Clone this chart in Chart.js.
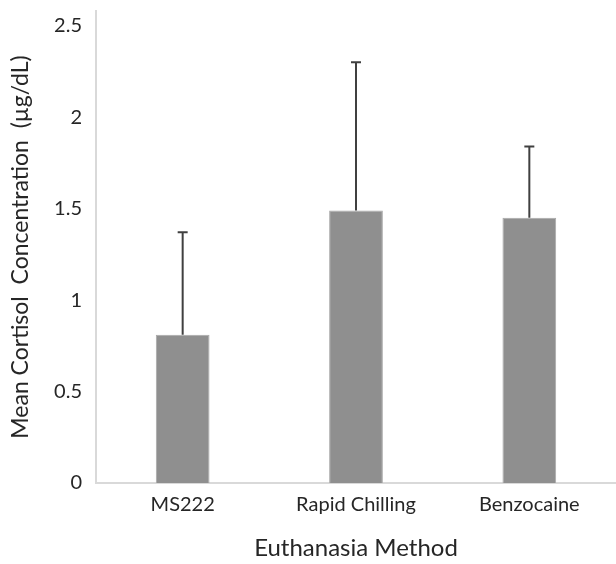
<!DOCTYPE html>
<html>
<head>
<meta charset="utf-8">
<script src="https://cdn.jsdelivr.net/npm/chart.js@4"></script>
<style>
  body { margin: 0; background: #fff; }
</style>
</head>
<body>
<canvas id="cortisolChart" width="616" height="564"></canvas>
<script>
// data
var methods = ["MS222", "Rapid Chilling", "Benzocaine"];
var meanCortisol = [0.81, 1.49, 1.45];
var errorUp = [0.56, 0.81, 0.39];
var yTicks = [0, 0.5, 1, 1.5, 2, 2.5];

var textColor = '#262626';
var fontFamily = 'Lato, sans-serif';

// upper-only error bars with a small cap
var errorBars = {
    id: 'errorBars',
    afterDatasetsDraw: function(chart) {
        var ctx = chart.ctx;
        var meta = chart.getDatasetMeta(0);
        var yScale = chart.scales.y;
        ctx.save();
        ctx.strokeStyle = '#404040';
        ctx.lineWidth = 2;
        meta.data.forEach(function(bar, i) {
            var x = bar.x;
            var yTop = yScale.getPixelForValue(meanCortisol[i] + errorUp[i]);
            var yBase = yScale.getPixelForValue(meanCortisol[i]);
            ctx.beginPath();
            ctx.moveTo(x, yBase);
            ctx.lineTo(x, yTop);
            ctx.moveTo(x - 5, yTop);
            ctx.lineTo(x + 5, yTop);
            ctx.stroke();
        });
        ctx.restore();
    }
};

var ctx = document.getElementById('cortisolChart').getContext('2d');
var chart = new Chart(ctx, {
    type: 'bar',
    data: {
        labels: methods,
        datasets: [{
            label: 'Mean Cortisol',
            data: meanCortisol,
            backgroundColor: '#8f8f8f',
            borderColor: '#a8a8a8',
            borderWidth: 1,
            barPercentage: 0.31,
            categoryPercentage: 1
        }]
    },
    options: {
        responsive: false,
        animation: false,
        layout: { padding: 0 },
        plugins: {
            legend: { display: false },
            tooltip: { enabled: false }
        },
        scales: {
            x: {
                grid: { display: false, drawTicks: false },
                border: { color: '#d9d9d9', width: 2 },
                ticks: {
                    color: textColor,
                    padding: 10,
                    font: { family: fontFamily, size: 20 }
                },
                title: {
                    display: true,
                    text: 'Euthanasia Method',
                    color: textColor,
                    font: { family: fontFamily, size: 24 },
                    padding: { top: 0, bottom: 1 }
                },
                afterFit: function(scale) { scale.height = 81; }
            },
            y: {
                min: 0,
                max: 2.58,
                grid: { display: false, drawTicks: false },
                border: { color: '#d9d9d9', width: 2 },
                ticks: {
                    color: textColor,
                    padding: 14,
                    font: { family: fontFamily, size: 20 },
                    callback: function(v) { return String(v); }
                },
                afterBuildTicks: function(scale) {
                    scale.ticks = yTicks.map(function(v) { return { value: v }; });
                },
                title: {
                    display: true,
                    text: 'Mean Cortisol  Concentration  (µg/dL)',
                    color: textColor,
                    font: { family: fontFamily, size: 23 },
                    padding: { top: 7, bottom: 0 }
                },
                afterFit: function(scale) {
                    scale.width = 96;
                    scale.paddingTop = 11;
                    scale.paddingBottom = 0;
                }
            }
        }
    },
    plugins: [errorBars]
});
</script>
</body>
</html>
